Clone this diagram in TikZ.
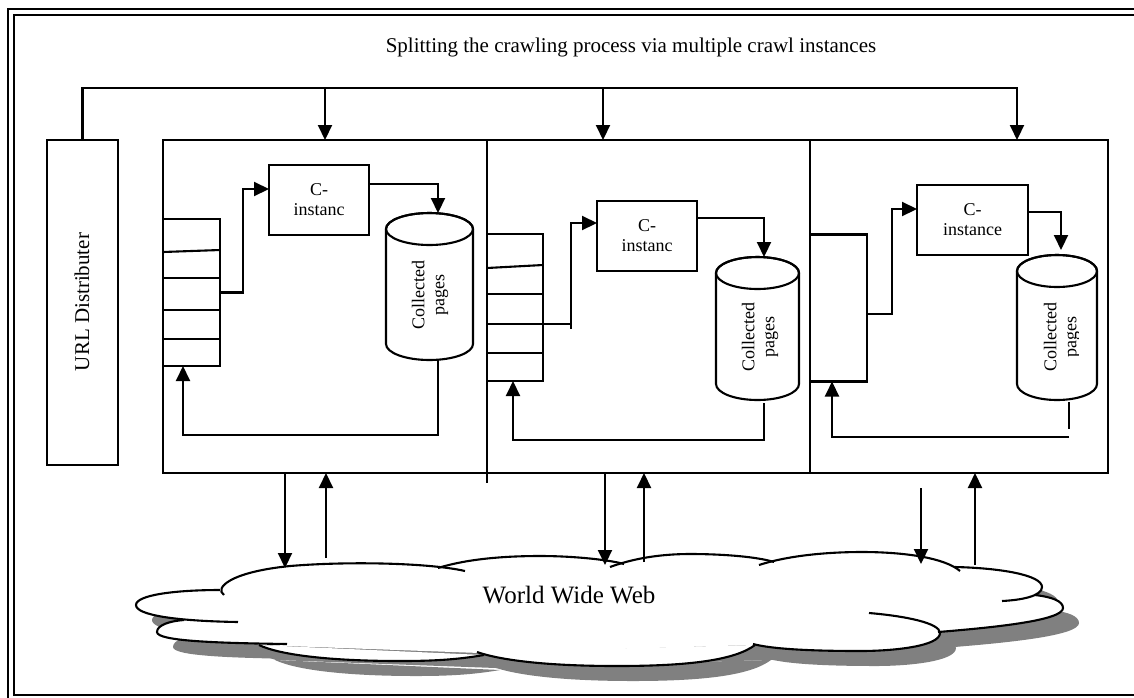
\documentclass[tikz,border=0pt]{standalone}
\usepackage{fontspec}
\setmainfont{Liberation Serif}
\usetikzlibrary{arrows.meta}
\definecolor{shadowgray}{RGB}{128,128,128}

% cloud lobes (each one a bulge of the World Wide Web cloud)
\def\lobeA{(224,595) .. controls (214,588) and (230,572) .. (290,566) .. controls (350,561) and (430,563) .. (465,571)}
\def\lobeB{(438,568) .. controls (470,558) and (510,556) .. (540,556) .. controls (575,556) and (610,560) .. (624,564)}
\def\lobeC{(610,567) .. controls (640,556) and (670,554) .. (690,554) .. controls (725,554) and (758,557) .. (774,562)}
\def\lobeD{(759,565) .. controls (790,555) and (830,552) .. (862,552) .. controls (905,552) and (945,558) .. (960,571)}
\def\lobeE{(955,567) .. controls (1000,568) and (1042,575) .. (1042,587) .. controls (1042,596) and (1022,600) .. (1002,601)}
\def\lobeF{(1035,595) .. controls (1052,597) and (1063,601) .. (1063,608) .. controls (1063,620) and (1000,627) .. (938,632)}
\def\lobeG{(869,613) .. controls (905,616) and (940,623) .. (940,633) .. controls (940,646) and (895,651) .. (860,651) .. controls (810,651) and (772,649) .. (753,644)}
\def\lobeH{(755,645) .. controls (735,660) and (690,666) .. (617,666) .. controls (545,666) and (500,660) .. (477,652)}
\def\lobeI{(484,655) .. controls (455,660) and (430,661) .. (400,661) .. controls (330,661) and (280,655) .. (259,645)}
\def\lobeJ{(287,644) .. controls (215,643) and (157,641) .. (157,632) .. controls (157,625) and (170,621) .. (184,620)}
\def\lobeK{(238,622) .. controls (175,621) and (136,615) .. (136,605) .. controls (136,595) and (175,590) .. (220,590)}

\newcommand\cloudbody[1]{%
  \fill[#1] (222,592) -- (440,568) -- (612,566) -- (762,565) -- (958,569) -- (1035,596)
    -- (1060,608) -- (938,632) -- (753,645) -- (480,653) -- (260,645) -- (184,621) -- cycle;
  \fill[#1] \lobeA -- cycle;  \fill[#1] \lobeB -- cycle;  \fill[#1] \lobeC -- cycle;
  \fill[#1] \lobeD -- cycle;  \fill[#1] \lobeE -- cycle;  \fill[#1] \lobeF -- cycle;
  \fill[#1] \lobeG -- cycle;  \fill[#1] \lobeH -- cycle;  \fill[#1] \lobeI -- cycle;
  \fill[#1] \lobeJ -- cycle;  \fill[#1] \lobeK -- cycle;}

% cylinder: centre x, x radius, top ellipse y, bottom ellipse y, y radius
\newcommand\drum[5]{%
  \draw[fill=white] ({#1-#2},#3) -- ({#1-#2},#4)
    arc[start angle=180, end angle=0, x radius=#2, y radius=#5]
    -- ({#1+#2},#3) arc[start angle=0, end angle=-180, x radius=#2, y radius=#5] -- cycle;
  \draw (#1,#3) ellipse[x radius=#2, y radius=#5];}

\begin{document}
\begin{tikzpicture}[x=1pt, y=-1pt, line width=2.1pt,
  arr/.style={-{Triangle[length=15pt,width=14pt]}},
  frame/.style={draw, inner sep=0pt, outer sep=0pt},
  bigtext/.style={font=\fontsize{21}{24}\selectfont},
  midtext/.style={font=\fontsize{18}{20}\selectfont, align=center},
  cbox/.style={frame, minimum height=70pt, midtext},
  queue/.style={frame, minimum height=147pt}]

\clip (0,0) rectangle (1134,697);
\fill[white] (0,0) rectangle (1134,697);

% double page frame
\draw (8,9) rectangle (1150,720);
\draw (14,15) rectangle (1145,695);

\node[bigtext, anchor=base] (title) at (631,52) {Splitting the crawling process via multiple crawl instances};

% URL distributer
\node[frame, minimum width=71pt, minimum height=325pt] (url) at (82.5,302.5) {};
\node[bigtext, rotate=90, anchor=base] (urltext) at (89,302) {URL Distributer};

% three crawl instance panels
\node[frame, minimum width=324pt, minimum height=333pt] (p1) at (325,306.5) {};
\node[frame, minimum width=323pt, minimum height=333pt] (p2) at (648.5,306.5) {};
\node[frame, minimum width=298pt, minimum height=333pt] (p3) at (959,306.5) {};
\draw (p1.south east) -- ++(0,10);

% distribution bus
\coordinate (bus) at (0,88);
\coordinate (d1) at (325,140);
\coordinate (d2) at (603,140);
\coordinate (d3) at (1017,140);
\draw[arr] (url.north) -- (url.north |- bus) -| (d3);
\draw[arr] (d1 |- bus) -- (d1);
\draw[arr] (d2 |- bus) -- (d2);

% panel 1
\node[queue, minimum width=57pt] (q1) at (191.5,292.5) {};
\draw (163,252) -- (220,250);
\draw (163,278) -- (220,278);
\draw (163,310) -- (220,310);
\draw (163,339) -- (220,339);
\node[cbox, minimum width=100pt] (c1) at (319,200) {C-\\instanc};
\drum{429.5}{43.5}{229}{344}{16}
\node[midtext, rotate=90] (g1) at (430,295) {Collected\\pages};
\coordinate (t1) at (438,213);
\coordinate (b1) at (438,360);
\draw[arr] (q1.east) -- ++(23,0) |- ([yshift=11pt]c1.west);
\draw[arr] ([yshift=16pt]c1.east) -| (t1);
\draw[arr] (b1) -- ++(0,75) -| ([xshift=-8.5pt]q1.south);

% panel 2
\node[queue, minimum width=56pt] (q2) at (515,307.5) {};
\draw (487,268) -- (543,265);
\draw (487,294) -- (543,294);
\draw (487,324) -- (543,324);
\draw (487,353) -- (543,353);
\node[cbox, minimum width=100pt] (c2) at (647,236) {C-\\instanc};
\drum{757.5}{41.5}{273}{384}{16}
\node[midtext, rotate=90] (g2) at (760,337) {Collected\\pages};
\coordinate (k2) at (571,324);
\coordinate (t2) at (764,257);
\coordinate (b2) at (764,403);
\draw[arr] (q2.east |- k2) -- (k2) |- ([yshift=13pt]c2.west);
\draw (k2) -- ++(0,5);
\draw[arr] ([yshift=18pt]c2.east) -| (t2);
\draw[arr] (b2) -- ++(0,37) -| ([xshift=-2pt]q2.south);

% panel 3
\node[queue, minimum width=57pt] (q3) at (838.5,308) {};
\node[cbox, minimum width=111pt] (c3) at (972.5,220) {C-\\instance};
\drum{1057}{40}{271}{384}{16}
\begin{scope}
  \clip (1000,280) rectangle (1078,400);
  \node[midtext, rotate=90] (g3) at (1062,337) {Collected\\pages};
\end{scope}
\coordinate (t3) at (1061,250);
\coordinate (b3) at (1069,402);
\coordinate (r3) at (1069,437);
\draw[arr] ([yshift=-6pt]q3.east) -- ++(25,0) |- ([yshift=11pt]c3.west);
\draw[arr] ([yshift=8pt]c3.east) -| (t3);
\draw (b3) -- ++(0,27);
\draw[arr] (r3) -| ([xshift=-6.5pt]q3.south);

% the web cloud
\begin{scope}[shift={(16,15)}]
  \cloudbody{shadowgray}
\end{scope}
\cloudbody{white}
\draw \lobeA; \draw \lobeB; \draw \lobeC; \draw \lobeD;
\draw \lobeE; \draw \lobeF; \draw \lobeG; \draw \lobeH;
\draw \lobeI; \draw \lobeJ; \draw \lobeK;
\node[font=\fontsize{25}{30}\selectfont, anchor=base] (www) at (569,603) {World Wide Web};

% traffic between panels and the web
\coordinate (w1d) at (285,568);
\coordinate (w1u) at (326,558);
\coordinate (w2d) at (605,565);
\coordinate (w2u) at (644,562);
\coordinate (w3s) at (921,488);
\coordinate (w3d) at (921,564);
\coordinate (w3u) at (975,565);
\draw[arr] (p1.south -| w1d) -- (w1d);
\draw[arr] (w1u) -- (p1.south -| w1u);
\draw[arr] (p2.south -| w2d) -- (w2d);
\draw[arr] (w2u) -- (p2.south -| w2u);
\draw[arr] (w3s) -- (w3d);
\draw[arr] (w3u) -- (p3.south -| w3u);
\end{tikzpicture}
\end{document}
